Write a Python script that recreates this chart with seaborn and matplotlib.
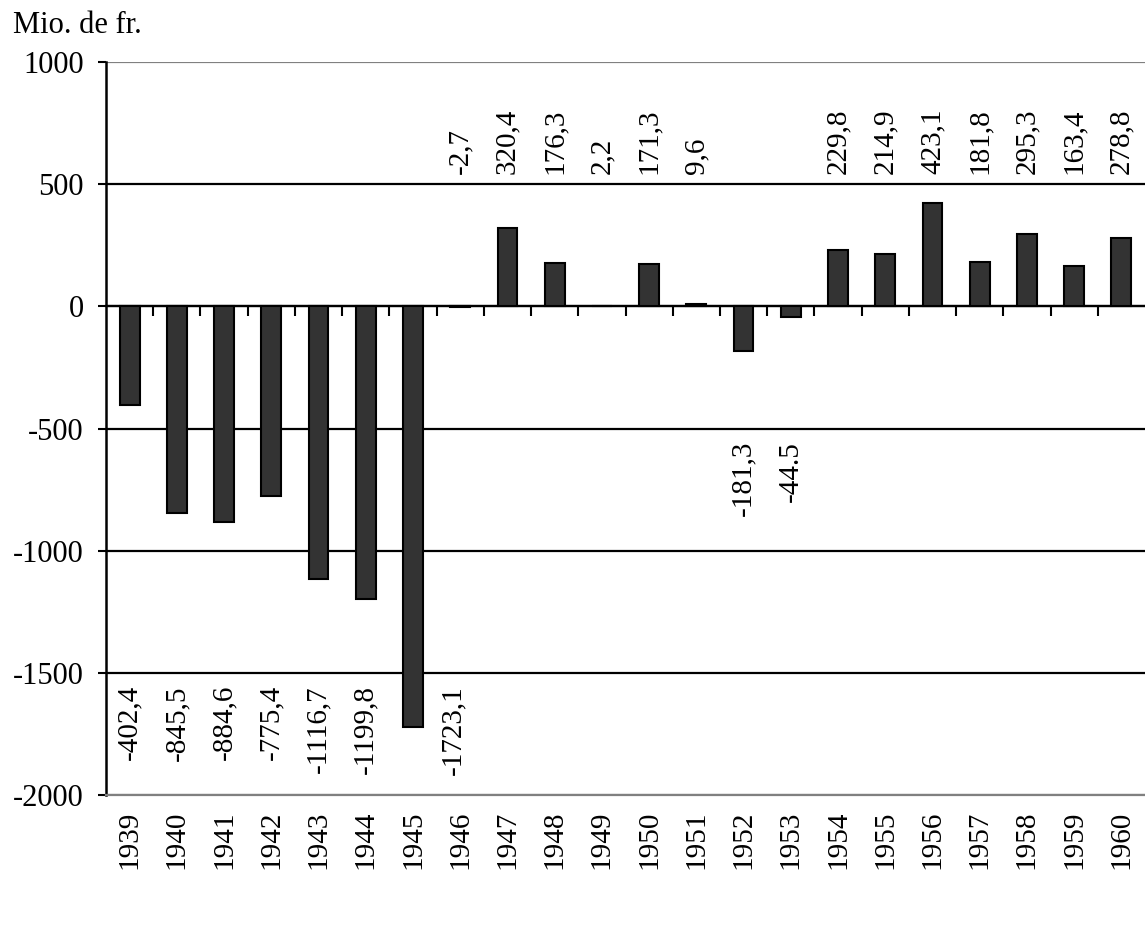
import numpy as np
import pandas as pd
import matplotlib
matplotlib.use("Agg")
import matplotlib.pyplot as plt
import seaborn as sns

years = ["1939", "1940", "1941", "1942", "1943", "1944", "1945", "1946", "1947", "1948", "1949",
         "1950", "1951", "1952", "1953", "1954", "1955", "1956", "1957", "1958", "1959", "1960"]
values = [-402.4, -845.5, -884.6, -775.4, -1116.7, -1199.8, -1723.1, -2.7, 320.4, 176.3, 2.2,
          171.3, 9.6, -181.3, -44.5, 229.8, 214.9, 423.1, 181.8, 295.3, 163.4, 278.8]
value_labels = ["-402,4", "-845,5", "-884,6", "-775,4", "-1116,7", "-1199,8", "-1723,1", "-2,7",
                "320,4", "176,3", "2,2", "171,3", "9,6", "-181,3", "-44.5", "229,8", "214,9",
                "423,1", "181,8", "295,3", "163,4", "278,8"]
y_ticks = [-2000, -1500, -1000, -500, 0, 500, 1000]
unit_label = "Mio. de fr."

sns.set_theme(style="white")
plt.rcParams["font.family"] = ["Liberation Serif", "DejaVu Serif"]
plt.rcParams["axes.unicode_minus"] = False

FS = 21
fig = plt.figure(figsize=(11.45, 9.44), dpi=100)
ax = fig.add_axes([106 / 1145, 1 - 795 / 944, 1 - 106 / 1145, (795 - 62) / 944])

df = pd.DataFrame({"year": years, "value": values})
sns.barplot(data=df, x="year", y="value", order=years, color="#333333", saturation=1,
            edgecolor="black", linewidth=1.5, width=0.42, ax=ax, zorder=3)

ymin, ymax = y_ticks[0], y_ticks[-1]
ax.set_ylim(ymin, ymax)
ax.set_xlim(-0.5, len(years) - 0.5)
ax.set_yticks(y_ticks)
ax.set_yticklabels([str(t) for t in y_ticks], fontsize=FS + 1)
ax.set_xlabel("")
ax.set_ylabel("")
ax.tick_params(axis="x", length=0, pad=11, labelsize=FS, labelrotation=90, colors="black")
ax.tick_params(axis="y", direction="out", length=6, width=1.5, pad=10, left=True, colors="black")

ax.set_axisbelow(True)
ax.yaxis.grid(True, color="black", linewidth=1.6)
ax.xaxis.grid(False)
glines = ax.get_ygridlines()
glines[0].set_color("#808080")
glines[-1].set_color("#808080")

for s in ["top", "right"]:
    ax.spines[s].set_visible(False)
ax.spines["left"].set_color("black")
ax.spines["left"].set_linewidth(1.8)
ax.spines["bottom"].set_color("#808080")
ax.spines["bottom"].set_linewidth(1.6)

# zero axis with category-boundary ticks
zero_frac = (0 - ymin) / (ymax - ymin)
sec = ax.secondary_xaxis(zero_frac)
sec.set_xticks(np.arange(len(years) - 1) + 0.5)
sec.set_xticklabels([])
sec.tick_params(direction="in", length=7, width=1.5, color="black")
for s in sec.spines.values():
    s.set_color("black")
    s.set_linewidth(1.6)

# value labels: positive row above 500, small negatives below -500, large negatives below -1500
for i, (v, lab) in enumerate(zip(values, value_labels)):
    if v > -10:
        ax.text(i, 540, lab, rotation=90, ha="center", va="bottom", fontsize=FS, color="black")
    elif v > -300:
        ax.text(i, -550, lab, rotation=90, ha="center", va="top", fontsize=FS, color="black")
    else:
        xoff = 0.85 if v < -1550 else 0.0  # shift aside when the bar reaches the label row
        ax.text(i + xoff, -1550, lab, rotation=90, ha="center", va="top", fontsize=FS, color="black")

fig.text(13 / 1145, 1 - 33 / 944, unit_label, fontsize=FS + 1, ha="left", va="baseline", color="black")

fig.savefig("out.png", dpi=100, facecolor="white")
